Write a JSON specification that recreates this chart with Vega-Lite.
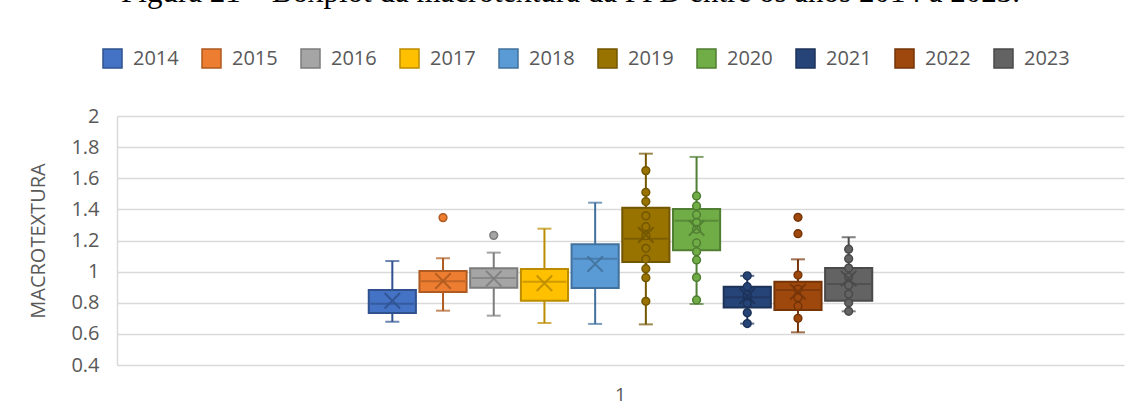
{
  "$schema": "https://vega.github.io/schema/vega-lite/v6.json",
  "autosize": "none",
  "width": 1007,
  "height": 249,
  "padding": {"left": 117, "top": 116, "right": 11, "bottom": 54},
  "background": "white",
  "title": {
    "text": "Figura 21 – Boxplot da macrotextura da PPD entre os anos 2014 a 2023.",
    "font": "Liberation Serif",
    "fontSize": 31,
    "fontWeight": "normal",
    "color": "#000000",
    "anchor": "middle",
    "dx": -50,
    "offset": 15,
    "baseline": "alphabetic"
  },
  "datasets": {
    "stats": [
      {"cat": "1", "year": "2014", "lo": 0.678, "q1": 0.734, "med": 0.794, "q3": 0.882, "hi": 1.068, "mean": 0.813},
      {"cat": "1", "year": "2015", "lo": 0.749, "q1": 0.869, "med": 0.938, "q3": 1.004, "hi": 1.086, "mean": 0.94},
      {"cat": "1", "year": "2016", "lo": 0.717, "q1": 0.897, "med": 0.959, "q3": 1.021, "hi": 1.122, "mean": 0.955},
      {"cat": "1", "year": "2017", "lo": 0.67, "q1": 0.813, "med": 0.935, "q3": 1.017, "hi": 1.276, "mean": 0.925},
      {"cat": "1", "year": "2018", "lo": 0.664, "q1": 0.895, "med": 1.083, "q3": 1.176, "hi": 1.443, "mean": 1.049},
      {"cat": "1", "year": "2019", "lo": 0.661, "q1": 1.062, "med": 1.212, "q3": 1.411, "hi": 1.758, "mean": 1.235},
      {"cat": "1", "year": "2020", "lo": 0.792, "q1": 1.137, "med": 1.327, "q3": 1.403, "hi": 1.737, "mean": 1.28},
      {"cat": "1", "year": "2021", "lo": 0.666, "q1": 0.77, "med": 0.836, "q3": 0.903, "hi": 0.973, "mean": 0.843},
      {"cat": "1", "year": "2022", "lo": 0.61, "q1": 0.753, "med": 0.882, "q3": 0.935, "hi": 1.079, "mean": 0.871},
      {"cat": "1", "year": "2023", "lo": 0.745, "q1": 0.813, "med": 0.92, "q3": 1.023, "hi": 1.221, "mean": 0.955}
    ],
    "pts": [
      {"cat": "1", "year": "2015", "v": 1.347},
      {"cat": "1", "year": "2016", "v": 1.233},
      {"cat": "1", "year": "2019", "v": 1.649},
      {"cat": "1", "year": "2019", "v": 1.51},
      {"cat": "1", "year": "2019", "v": 1.45},
      {"cat": "1", "year": "2019", "v": 1.359},
      {"cat": "1", "year": "2019", "v": 1.289},
      {"cat": "1", "year": "2019", "v": 1.231},
      {"cat": "1", "year": "2019", "v": 1.15},
      {"cat": "1", "year": "2019", "v": 1.081},
      {"cat": "1", "year": "2019", "v": 1.019},
      {"cat": "1", "year": "2019", "v": 0.961},
      {"cat": "1", "year": "2019", "v": 0.809},
      {"cat": "1", "year": "2020", "v": 1.486},
      {"cat": "1", "year": "2020", "v": 1.422},
      {"cat": "1", "year": "2020", "v": 1.366},
      {"cat": "1", "year": "2020", "v": 1.315},
      {"cat": "1", "year": "2020", "v": 1.272},
      {"cat": "1", "year": "2020", "v": 1.184},
      {"cat": "1", "year": "2020", "v": 1.128},
      {"cat": "1", "year": "2020", "v": 1.075},
      {"cat": "1", "year": "2020", "v": 0.963},
      {"cat": "1", "year": "2020", "v": 0.818},
      {"cat": "1", "year": "2021", "v": 0.973},
      {"cat": "1", "year": "2021", "v": 0.903},
      {"cat": "1", "year": "2021", "v": 0.85},
      {"cat": "1", "year": "2021", "v": 0.796},
      {"cat": "1", "year": "2021", "v": 0.736},
      {"cat": "1", "year": "2021", "v": 0.666},
      {"cat": "1", "year": "2022", "v": 1.349},
      {"cat": "1", "year": "2022", "v": 1.244},
      {"cat": "1", "year": "2022", "v": 0.978},
      {"cat": "1", "year": "2022", "v": 0.888},
      {"cat": "1", "year": "2022", "v": 0.833},
      {"cat": "1", "year": "2022", "v": 0.779},
      {"cat": "1", "year": "2022", "v": 0.7},
      {"cat": "1", "year": "2023", "v": 1.144},
      {"cat": "1", "year": "2023", "v": 1.083},
      {"cat": "1", "year": "2023", "v": 1.023},
      {"cat": "1", "year": "2023", "v": 0.967},
      {"cat": "1", "year": "2023", "v": 0.912},
      {"cat": "1", "year": "2023", "v": 0.856},
      {"cat": "1", "year": "2023", "v": 0.8},
      {"cat": "1", "year": "2023", "v": 0.745}
    ]
  },
  "encoding": {
    "x": {
      "field": "cat", "type": "nominal",
      "scale": {"paddingOuter": 0.5, "paddingInner": 0},
      "axis": {"title": null, "ticks": false, "domain": false, "grid": false, "labelAngle": 0, "labelPadding": 20, "labelFontSize": 19, "labelColor": "#595959", "labelFont": "Open Sans"}
    },
    "xOffset": {
      "field": "year", "type": "nominal",
      "scale": {"paddingInner": 0.07, "paddingOuter": 0.0}
    }
  },
  "resolve": {"axis": {"y": "independent"}},
  "layer": [
    {
      "data": {"name": "stats"},
      "mark": {"type": "rule", "strokeWidth": 2},
      "encoding": {
        "y": {"field": "lo", "type": "quantitative",
          "scale": {"domain": [0.4, 2], "nice": false, "zero": false},
          "axis": {"title": "MACROTEXTURA", "values": [0.4, 0.6, 0.8, 1, 1.2, 1.4, 1.6, 1.8, 2], "format": "~g", "labelOverlap": false,
            "grid": true, "gridColor": "#d9d9d9", "gridWidth": 1.5, "domain": true, "domainColor": "#d9d9d9", "domainWidth": 1.5,
            "ticks": false, "labelPadding": 18, "labelFontSize": 20, "labelColor": "#595959", "labelFont": "Open Sans",
            "titleFontSize": 20, "titleColor": "#595959", "titleFont": "Open Sans", "titleFontWeight": "normal", "titlePadding": 22}},
        "y2": {"field": "hi"},
        "stroke": {"field": "year", "type": "nominal", "legend": null,
          "scale": {"range": ["#2F528F", "#AE5A21", "#7C7C7C", "#BC8C00", "#41719C", "#725600", "#507E32", "#1C3258", "#763508", "#4A4A4A"]}}
      }
    },
    {
      "data": {"name": "stats"},
      "mark": {"type": "bar", "strokeWidth": 2},
      "encoding": {
        "y": {"field": "q1", "type": "quantitative", "axis": null},
        "y2": {"field": "q3"},
        "fill": {"field": "year", "type": "nominal",
          "scale": {"range": ["#4472C4", "#ED7D31", "#A5A5A5", "#FFC000", "#5B9BD5", "#997300", "#70AD47", "#264478", "#9E480E", "#636363"]},
          "legend": {"encode": {"symbols": {"update": {"stroke": {"scale": "stroke", "field": "value"}, "strokeWidth": {"value": 1.5}}}}}},
        "stroke": {"field": "year", "type": "nominal", "legend": null}
      }
    },
    {
      "data": {"name": "stats"},
      "mark": {"type": "tick", "thickness": 2, "size": 44},
      "encoding": {
        "y": {"field": "med", "type": "quantitative", "axis": null},
        "color": {"field": "year", "type": "nominal", "legend": null,
          "scale": {"range": ["#2F528F", "#AE5A21", "#7C7C7C", "#BC8C00", "#41719C", "#725600", "#507E32", "#1C3258", "#763508", "#4A4A4A"]}}
      }
    },
    {
      "data": {"name": "stats"},
      "mark": {"type": "tick", "thickness": 2, "size": 14},
      "encoding": {
        "y": {"field": "lo", "type": "quantitative", "axis": null},
        "color": {"field": "year", "type": "nominal", "legend": null}
      }
    },
    {
      "data": {"name": "stats"},
      "mark": {"type": "tick", "thickness": 2, "size": 14},
      "encoding": {
        "y": {"field": "hi", "type": "quantitative", "axis": null},
        "color": {"field": "year", "type": "nominal", "legend": null}
      }
    },
    {
      "data": {"name": "pts"},
      "mark": {"type": "point", "filled": true, "opacity": 1, "size": 60, "strokeWidth": 1.5},
      "encoding": {
        "y": {"field": "v", "type": "quantitative", "axis": null},
        "fill": {"field": "year", "type": "nominal"},
        "stroke": {"field": "year", "type": "nominal", "legend": null}
      }
    },
    {
      "data": {"name": "stats"},
      "mark": {"type": "point", "shape": "M-1,-1L1,1M-1,1L1,-1", "filled": false, "opacity": 0.85, "size": 240, "strokeWidth": 2},
      "encoding": {
        "y": {"field": "mean", "type": "quantitative", "axis": null},
        "stroke": {"field": "year", "type": "nominal", "legend": null}
      }
    }
  ],
  "config": {
    "font": "Open Sans",
    "view": {"stroke": null},
    "legend": {
      "orient": "none",
      "legendX": -15,
      "legendY": -68,
      "direction": "horizontal",
      "title": null,
      "symbolType": "square",
      "symbolSize": 361,
      "symbolStrokeWidth": 1.5,
      "labelFontSize": 20,
      "labelColor": "#595959",
      "labelFont": "Open Sans",
      "labelOffset": 10,
      "columnPadding": 20,
      "symbolOpacity": 1
    }
  }
}
